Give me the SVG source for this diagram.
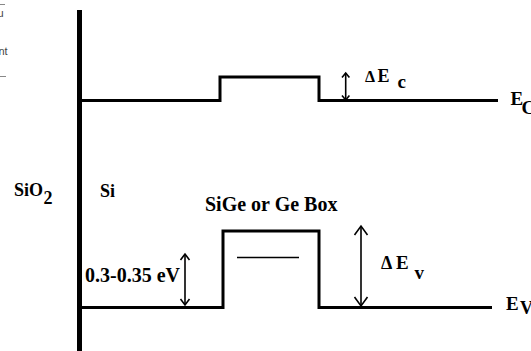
<svg xmlns="http://www.w3.org/2000/svg" width="531" height="351" viewBox="0 0 531 351">
<style>
.band{fill:none;stroke:#000;stroke-width:3;stroke-linejoin:miter}
.arr{fill:none;stroke:#000;stroke-width:1.6}
.lbl{font-family:"Liberation Serif","Times New Roman",serif;font-weight:bold;fill:#000}
.frag{font-family:"Liberation Sans",Arial,sans-serif;font-size:11px;fill:#444}
</style>
<rect width="531" height="351" fill="#fff"/>
<g id="fragments">
<line x1="0" y1="4.5" x2="5" y2="4.5" stroke="#888" stroke-width="1"/>
<text class="frag" x="-2.5" y="17">u</text>
<text class="frag" x="-1.5" y="55">nt</text>
<line x1="0" y1="76.5" x2="6" y2="76.5" stroke="#888" stroke-width="1"/>
</g>
<g id="interface">
<line x1="79.5" y1="10" x2="79.5" y2="351" stroke="#000" stroke-width="5"/>
</g>
<g id="conduction-band">
<polyline class="band" points="81,100.5 220,100.5 220,77 319,77 319,100.5 498,100.5"/>
</g>
<g id="valence-band">
<polyline class="band" points="81,307.5 223,307.5 223,231 319,231 319,307.5 492,307.5"/>
<line x1="237" y1="257.5" x2="299" y2="257.5" stroke="#000" stroke-width="1.6"/>
</g>
<g id="connectors">
<g id="arrow-dEc">
<line class="arr" x1="345.7" y1="73" x2="345.7" y2="100"/>
<polyline class="arr" points="342,77.5 345.7,73 349.4,77.5"/>
<polyline class="arr" points="342,95.5 345.7,100 349.4,95.5"/>
</g>
<g id="arrow-offset">
<line class="arr" x1="185" y1="254" x2="185" y2="305"/>
<polyline class="arr" points="180.5,260 185,254 189.5,260"/>
<polyline class="arr" points="180.5,299 185,305 189.5,299"/>
</g>
<g id="arrow-dEv">
<line class="arr" x1="361" y1="226" x2="361" y2="306"/>
<polyline class="arr" points="354.5,235 361,226 367.5,235"/>
<polyline class="arr" points="354.5,297 361,306 367.5,297"/>
</g>
</g>
<g id="labels">
<g id="label-sio2">
<text class="lbl" x="14" y="195.5" font-size="18">SiO</text>
<text class="lbl" x="43.5" y="204" font-size="18">2</text>
</g>
<g id="label-si"><text class="lbl" x="100" y="196.5" font-size="18">Si</text></g>
<g id="label-box"><text class="lbl" x="205" y="211" font-size="20">SiGe or Ge Box</text></g>
<g id="label-offset"><text class="lbl" x="85" y="281.5" font-size="20">0.3-0.35 eV</text></g>
<g id="label-dEc">
<text class="lbl" x="365" y="82" font-size="16">Δ</text>
<text class="lbl" x="377.5" y="82" font-size="18">E</text>
<text class="lbl" x="397.5" y="87.5" font-size="19">c</text>
</g>
<g id="label-dEv">
<text class="lbl" x="381" y="268.5" font-size="18">Δ</text>
<text class="lbl" x="396" y="268.5" font-size="19">E</text>
<text class="lbl" x="414.5" y="278.5" font-size="19">v</text>
</g>
<g id="label-Ec">
<text class="lbl" x="510.5" y="105" font-size="19">E</text>
<text class="lbl" x="521.5" y="114" font-size="19">C</text>
</g>
<g id="label-Ev">
<text class="lbl" x="506" y="310" font-size="19">E</text>
<text class="lbl" x="520" y="314" font-size="18">V</text>
</g>
</g>
</svg>
